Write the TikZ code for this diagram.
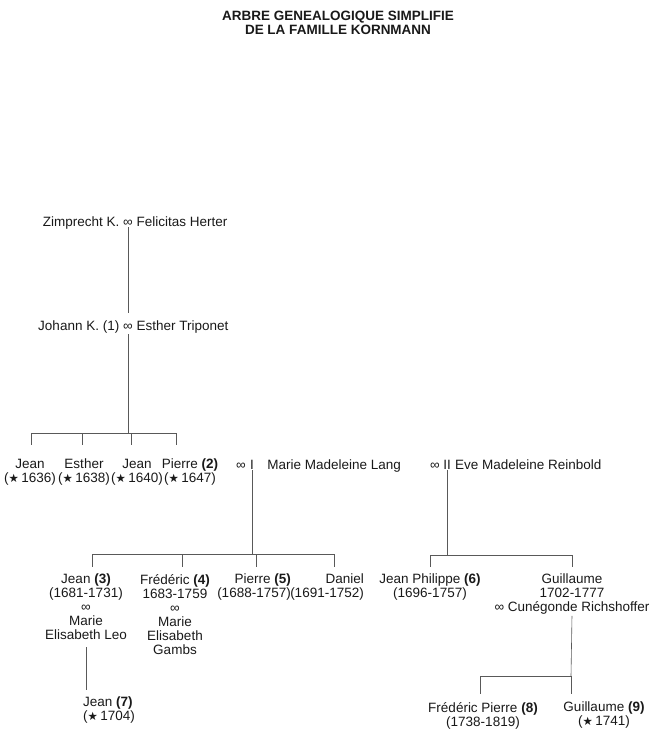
\documentclass[tikz,border=0pt]{standalone}
\usepackage{fontspec}
\setmainfont{Liberation Sans}
\newfontfamily\symfont{DejaVu Sans}
\usetikzlibrary{positioning}
\newcommand{\etoile}{{\symfont\fontsize{11.5}{10}\selectfont ★}}
\begin{document}
\begin{tikzpicture}[x=1pt, y=-1pt, font=\fontsize{13.5}{14}\selectfont]
\tikzstyle{person} = [inner sep=0pt, align=center, text=black!90]
\tikzstyle{edge} = [draw=black!65, line width=0.6pt]
\useasboundingbox (0,0) rectangle (662,744);

\node[person, anchor=north, font=\fontsize{13.5}{14}\selectfont\bfseries] (titre) at (338,11) {ARBRE GENEALOGIQUE SIMPLIFIE\\DE LA FAMILLE KORNMANN};

\node[person, anchor=base] (m0) at (128,226) {∞};
\node[person, base left=3.5pt of m0] (zimprecht) {Zimprecht K.};
\node[person, base right=3.5pt of m0] (felicitas) {Felicitas Herter};

\node[person, anchor=base] (m1) at (128,330) {∞};
\node[person, base left=3.5pt of m1] (johann) {Johann K. (1)};
\node[person, base right=3.5pt of m1] (triponet) {Esther Triponet};

\node[person, anchor=north] (jean1) at (30,459) {Jean\\(\etoile\,1636)};
\node[person, anchor=north] (esther) at (84,459) {Esther\\(\etoile\,1638)};
\node[person, anchor=north] (jean2) at (137,459) {Jean\\(\etoile\,1640)};
\node[person, anchor=north] (pierre2) at (190,459) {Pierre \textbf{(2)}\\(\etoile\,1647)};

\node[person, anchor=base] (wI) at (252,469) {I};
\node[person, base left=4pt of wI] (m2) {∞};
\node[person, base right=13pt of wI] (lang) {Marie Madeleine Lang};
\node[person, anchor=base] (wII) at (447,469) {II};
\node[person, base left=3pt of wII] (m3) {∞};
\node[person, base right=4pt of wII] (reinbold) {Eve Madeleine Reinbold};

\node[person, anchor=north] (jean3) at (86,574) {Jean \textbf{(3)}\\(1681-1731)\\∞\\Marie\\Elisabeth Leo};
\node[person, anchor=north] (frederic4) at (175,574) {Frédéric \textbf{(4)}\\1683-1759\\∞\\Marie\\Elisabeth\\Gambs};
\node[person, anchor=north east, align=right] (pierre5) at (291,574) {Pierre \textbf{(5)}\\(1688-1757)};
\node[person, anchor=north east, align=right] (daniel) at (364,574) {Daniel\\(1691-1752)};
\node[person, anchor=north] (jeanphil) at (430,574) {Jean Philippe \textbf{(6)}\\(1696-1757)};
\node[person, anchor=north] (guillaume) at (572,574) {Guillaume\\1702-1777\\∞ Cunégonde Richshoffer};

\node[person, anchor=north west, align=left] (jean7) at (83,697) {Jean \textbf{(7)}\\(\etoile\,1704)};
\node[person, anchor=north] (fredpierre) at (483,702) {Frédéric Pierre \textbf{(8)}\\(1738-1819)};
\node[person, anchor=north] (guillaume9) at (604,702) {Guillaume \textbf{(9)}\\(\etoile\,1741)};

\coordinate (b3) at (128,433);
\coordinate (b4) at (252,554);
\coordinate (b4r) at (447,555);
\coordinate (b5) at (571,676);

\draw[edge, shorten <=1pt, shorten >=10pt] (m0) -- (m1);
\draw[edge, shorten <=4pt] (m1) -- (b3);
\draw[edge, shorten >=14pt] (b3) -| ([xshift=1pt]jean1.north);
\draw[edge, shorten >=14pt] (b3) -| ([xshift=-2pt]esther.north);
\draw[edge, shorten >=14pt] (b3) -| ([xshift=-6pt]jean2.north);
\draw[edge, shorten >=14pt] (b3) -| ([xshift=-14pt]pierre2.north);

\draw[edge, shorten <=1pt] (wI) -- (b4);
\draw[edge, shorten >=7pt] (b4) -| ([xshift=6pt]jean3.north);
\draw[edge, shorten >=7pt] (b4) -| ([xshift=7pt]frederic4.north);
\draw[edge, shorten >=7pt] (b4) -| ([xshift=2.5pt]pierre5.north);
\draw[edge, shorten >=7pt] (b4) -| ([xshift=7.5pt]daniel.north);

\draw[edge, shorten <=1pt] (wII) -- (b4r);
\draw[edge, shorten >=7pt] (b4r) -| (jeanphil.north);
\draw[edge, shorten >=7pt] (b4r) -| (guillaume.north);

\draw[edge, shorten <=7pt, shorten >=7pt] (jean3.south) -- (jean3.south |- jean7.north);
\draw[edge, shorten <=1pt] (guillaume.south) -- (b5);
\draw[edge, shorten >=8pt] (b5) -| ([xshift=-3pt]fredpierre.north);
\draw[edge, shorten >=8pt] (b5) -- (b5 |- guillaume9.north);
\end{tikzpicture}
\end{document}
